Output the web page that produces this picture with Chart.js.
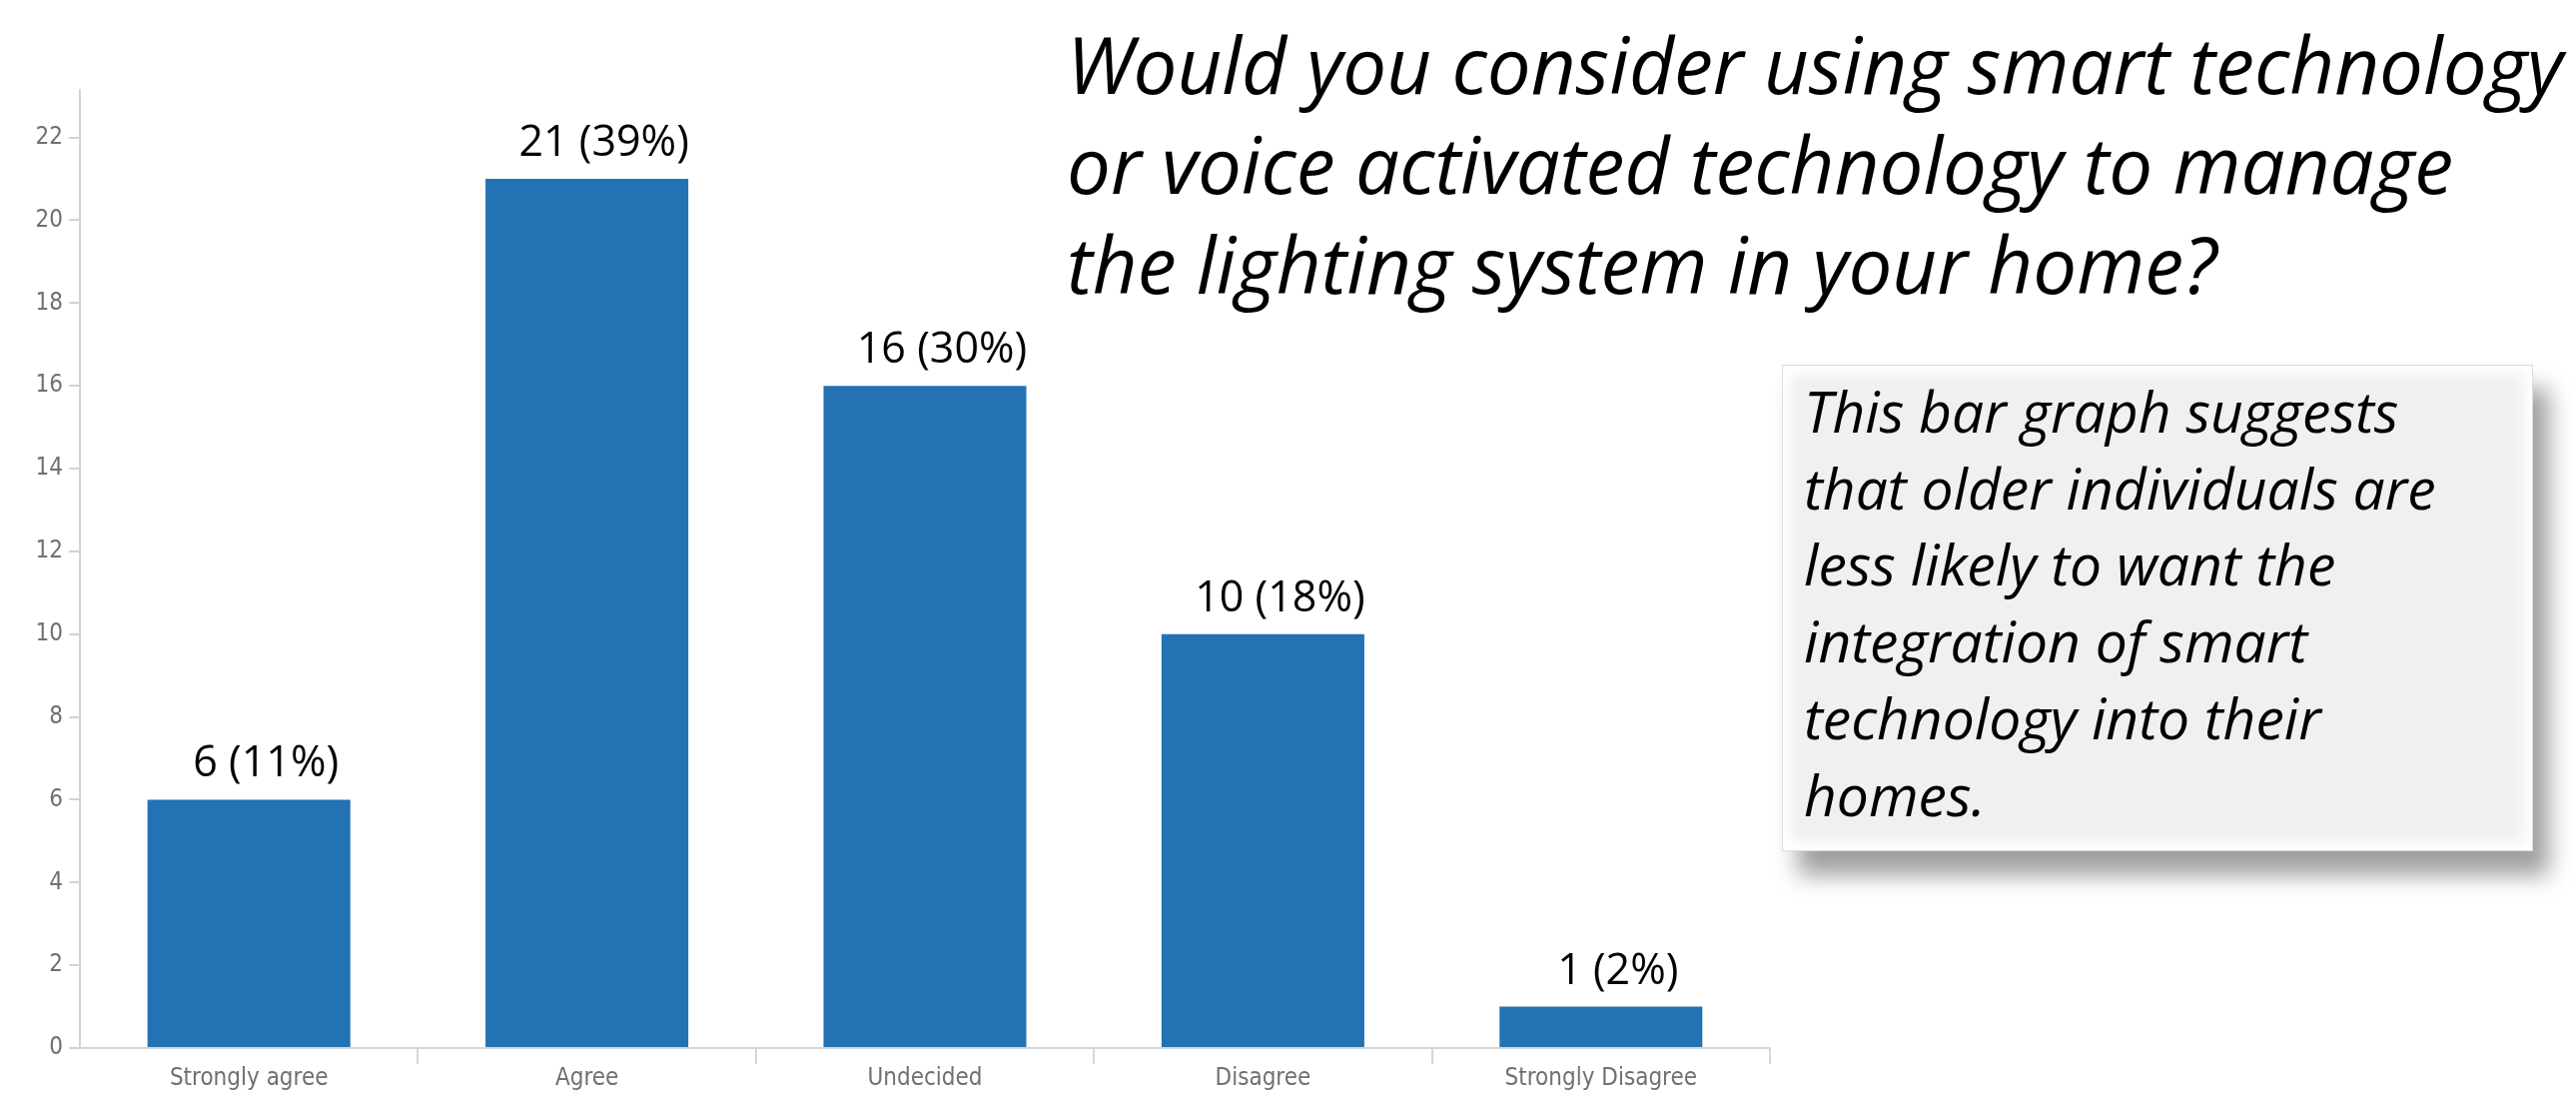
<!DOCTYPE html>
<html>
<head>
<meta charset="utf-8">
<script src="https://cdn.jsdelivr.net/npm/chart.js@4.4.0/dist/chart.umd.min.js"></script>
<style>
  body { margin: 0; background: #fff; overflow: hidden; }
  #wrap { position: relative; width: 2579px; height: 1101px; }
  #title {
    position: absolute; left: 1068px; top: 14px;
    font-family: "Open Sans", sans-serif; font-style: italic;
    font-size: 78px; line-height: 100px; color: #000; white-space: nowrap;
  }
  #note {
    position: absolute; left: 1784px; top: 365px; width: 752px; height: 487px;
    box-sizing: border-box; padding: 7px 0 0 21px;
    background: #f0f0f0; border: 1px solid #dcdcdc;
    box-shadow: inset 0 0 14px 8px #fff, 16px 24px 22px rgba(0,0,0,0.38);
    font-family: "Open Sans", sans-serif; font-style: italic;
    font-size: 57px; line-height: 76.7px; color: #000; white-space: nowrap;
  }
</style>
</head>
<body>
<div id="wrap">
  <canvas id="surveyChart" width="2579" height="1101"></canvas>
  <div id="title">Would you consider using smart technology<br>or voice activated technology to manage<br>the lighting system in your home?</div>
  <div id="note">This bar graph suggests<br>that older individuals are<br>less likely to want the<br>integration of smart<br>technology into their<br>homes.</div>
</div>
<script>
var answers = ["Strongly agree", "Agree", "Undecided", "Disagree", "Strongly Disagree"];
var counts = [6, 21, 16, 10, 1];
var percents = ["11%", "39%", "30%", "18%", "2%"];
var yTicksMax = 23.15;

var tickFont = { family: '"DejaVu Sans Condensed", "Liberation Sans Narrow", "Roboto", sans-serif', size: 24 };

// draws "n (p%)" above each bar
var valueLabels = {
  id: 'valueLabels',
  afterDatasetsDraw: function(chart){
    var ctx = chart.ctx;
    var meta = chart.getDatasetMeta(0);
    ctx.save();
    ctx.font = '43px "Open Sans", sans-serif';
    ctx.fillStyle = '#000';
    ctx.textAlign = 'center';
    ctx.textBaseline = 'alphabetic';
    meta.data.forEach(function(bar, i){
      ctx.fillText(counts[i] + ' (' + percents[i] + ')', bar.x + 17, bar.y - 23);
    });
    ctx.restore();
  }
};

var ctx = document.getElementById("surveyChart").getContext('2d');

var bar_config = {
  type: 'bar',
  data: {
    labels: answers,
    datasets: [{
      data: counts,
      backgroundColor: '#2372b4',
      borderWidth: 0,
      barPercentage: 0.6,
      categoryPercentage: 1.0
    }]
  },
  options: {
    responsive: false,
    animation: false,
    devicePixelRatio: 1,
    layout: { padding: { top: 90, left: 0, right: 807, bottom: 0 } },
    plugins: {
      legend: { display: false },
      tooltip: { enabled: false },
      title: { display: false }
    },
    scales: {
      x: {
        border: { color: '#d6d6d6', width: 2 },
        grid: {
          offset: true, drawOnChartArea: false, tickLength: 16, lineWidth: 2,
          // no separator at the two outer ends
          color: function(c){ return (c.index === 0 || c.index === answers.length) ? 'rgba(0,0,0,0)' : '#d6d6d6'; }
        },
        ticks: { color: '#707070', font: tickFont, padding: 0, maxRotation: 0 },
        afterFit: function(s){ s.height = 52; }
      },
      y: {
        min: 0,
        max: yTicksMax,
        border: { color: '#d3d3d3', width: 2 },
        grid: { drawOnChartArea: false, tickLength: 11, color: '#d3d3d3', lineWidth: 2 },
        ticks: { stepSize: 2, includeBounds: false, color: '#707070', font: tickFont, padding: 6 },
        afterFit: function(s){ s.width = 80; }
      }
    }
  },
  plugins: [valueLabels]
};

var surveyChart = new Chart(ctx, bar_config);
</script>
</body>
</html>
